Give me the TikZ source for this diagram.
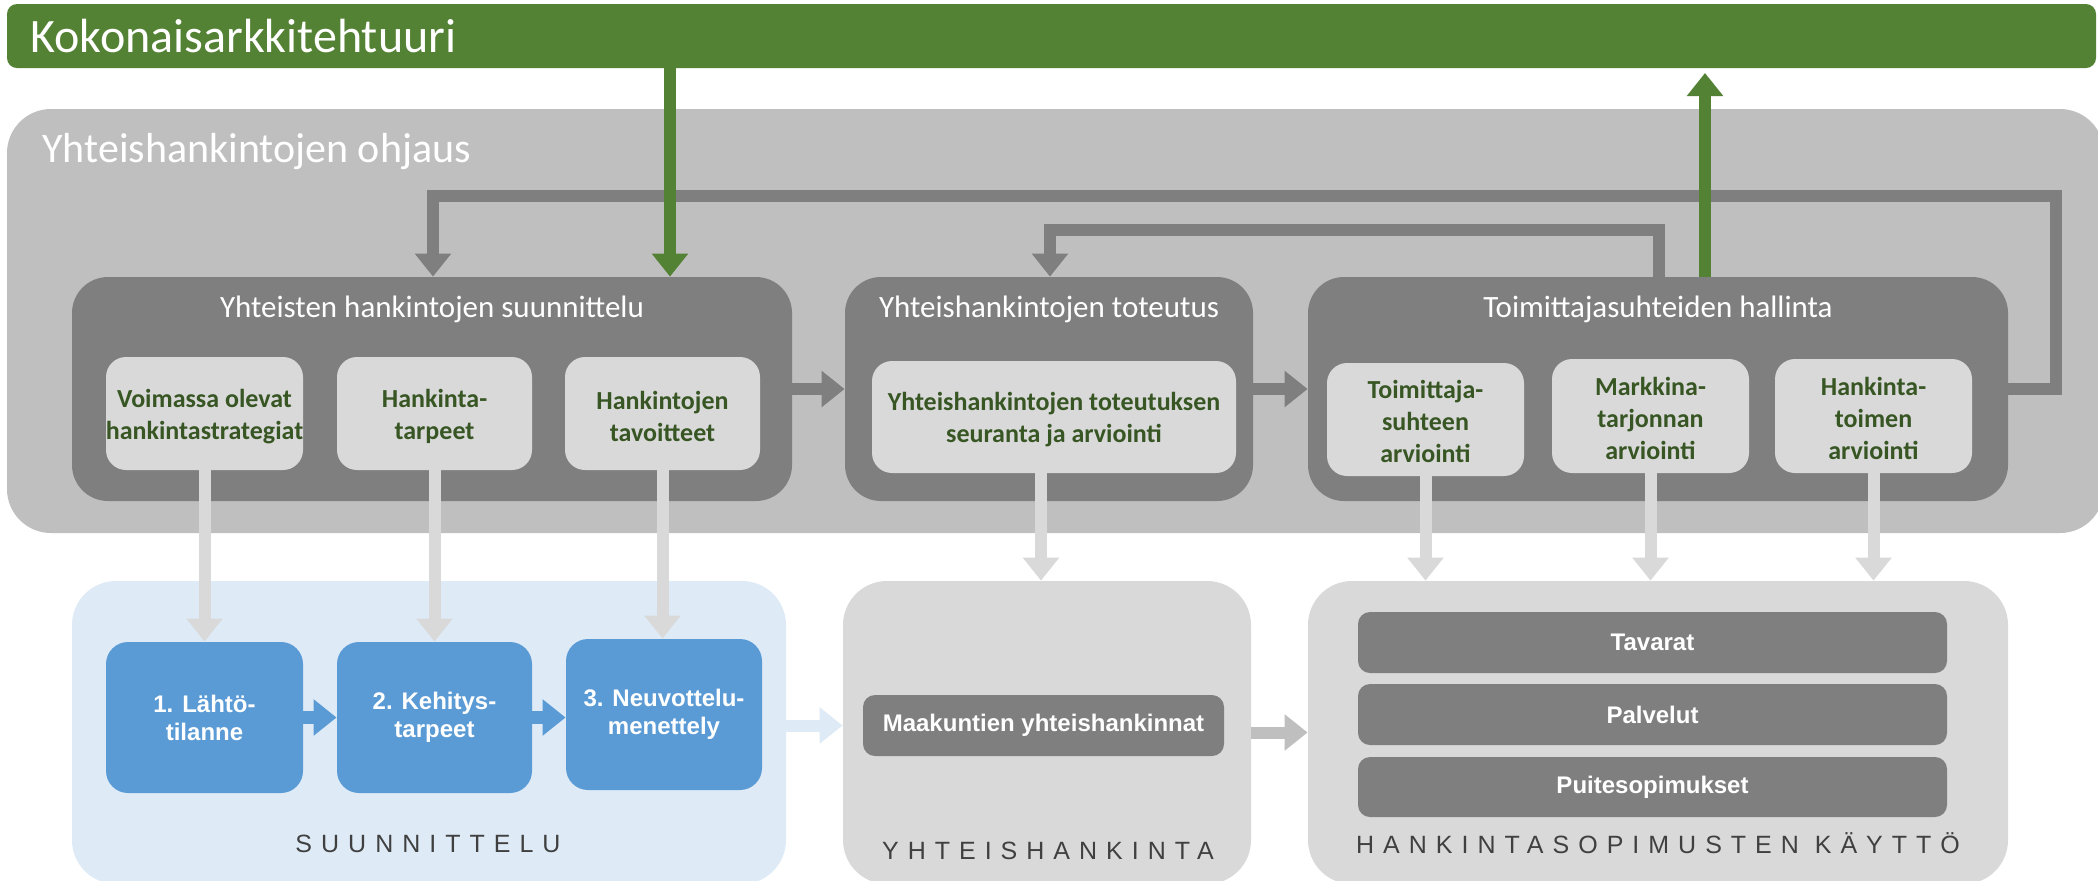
\documentclass[tikz,border=0pt]{standalone}
\usepackage{fontspec}
\setmainfont{Carlito}
\newfontfamily\arialf{Liberation Sans}
\newfontfamily\capf{Liberation Sans}[LetterSpace=36]
\usetikzlibrary{arrows.meta,fit,calc}
\definecolor{kgreen}{HTML}{548235}
\definecolor{ogray}{HTML}{BFBFBF}
\definecolor{dgray}{HTML}{7F7F7F}
\definecolor{lgray}{HTML}{D9D9D9}
\definecolor{tgreen}{HTML}{375623}
\definecolor{lblue}{HTML}{DEEBF7}
\definecolor{mblue}{HTML}{5B9BD5}
\definecolor{capgray}{HTML}{404040}
\tikzset{
 fbox/.style={fill=#1, draw=none, inner sep=0pt},
 outerbox/.style={fbox=ogray, rounded corners=22pt},
 darkbox/.style={fbox=dgray, rounded corners=18pt},
 lightbox/.style={fbox=lgray, rounded corners=10pt},
 lighttext/.style={inner sep=0pt, align=center, text=tgreen, font=\fontsize{13pt}{16pt}\selectfont\bfseries},
 zonebox/.style={fbox=#1, rounded corners=22pt},
 bluebox/.style={fbox=mblue, rounded corners=11pt},
 whitetext/.style={inner sep=0pt, align=center, text=white, font=\arialf\fontsize{12pt}{14pt}\selectfont\bfseries},
 graybar/.style={fbox=dgray, rounded corners=6pt},
 boxtitle/.style={text=white, font=\fontsize{15.5pt}{18pt}\selectfont, inner sep=0pt, anchor=base},
 zonecaption/.style={text=capgray, font=\capf\fontsize{12.5pt}{15pt}\selectfont, inner sep=0pt, anchor=base},
 fatarrow/.style={draw=#1, line width=6pt, -{Triangle[width=17.5pt,length=11.5pt]}},
}
\begin{document}
\begin{tikzpicture}[x=0.5pt,y=-0.5pt]
\useasboundingbox (0,0) rectangle (2098,880);
\clip (0,0) rectangle (2098,880);
\fill[white] (0,0) rectangle (2098,880);

% steering area
\node[outerbox, fit={(7,109) (2104,533)}] (O) {};
\node[anchor=base west, inner sep=0pt, text=white, font=\fontsize{21pt}{24pt}\selectfont] (Ot) at (42,162) {Yhteishankintojen ohjaus};

% green bar
\node[fbox=kgreen, rounded corners=5pt, fit={(7,4) (2096,68)}] (K) {};
\node[anchor=base west, inner sep=0pt, text=white, font=\fontsize{24pt}{28pt}\selectfont] (Kt) at (30,52) {Kokonaisarkkitehtuuri};

% dark boxes
\node[darkbox, fit={(72,277) (792,501)}] (dS) {};
\node[boxtitle] (dSt) at (432,317) {Yhteisten hankintojen suunnittelu};
\node[darkbox, fit={(845,277) (1253,501)}] (dT) {};
\node[boxtitle] (dTt) at (1049,317) {Yhteishankintojen toteutus};
\node[darkbox, fit={(1308,277) (2008,501)}] (dH) {};
\node[boxtitle] (dHt) at (1658,317) {Toimittajasuhteiden hallinta};

% light boxes
\node[lightbox, fit={(106,357) (303,470)}] (L1) {};
\node[lightbox, fit={(337,357) (532,470)}] (L2) {};
\node[lightbox, fit={(565,357) (760,470)}] (L3) {};
\node[lightbox, fit={(872,361) (1236,473)}] (L4) {};
\node[lightbox, fit={(1327,363) (1524,476)}] (L5) {};
\node[lightbox, fit={(1552,359) (1749,473)}] (L6) {};
\node[lightbox, fit={(1775,359) (1972,473)}] (L7) {};
\node[lighttext] (L1t) at ($(L1.center)+(0,3)$) {Voimassa olevat\\hankintastrategiat};
\node[lighttext] (L2t) at ($(L2.center)+(0,3)$) {Hankinta-\\tarpeet};
\node[lighttext] (L3t) at ($(L3.center)+(0,3)$) {Hankintojen\\tavoitteet};
\node[lighttext] (L4t) at ($(L4.center)+(0,3)$) {Yhteishankintojen toteutuksen\\seuranta ja arviointi};
\node[lighttext] (L5t) at ($(L5.center)+(0,2)$) {Toimittaja-\\suhteen\\arviointi};
\node[lighttext] (L6t) at ($(L6.center)+(0,2)$) {Markkina-\\tarjonnan\\arviointi};
\node[lighttext] (L7t) at ($(L7.center)+(0,2)$) {Hankinta-\\toimen\\arviointi};

% bottom zones
\node[zonebox=lblue, fit={(72,581) (786,884)}] (BS) {};
\node[zonebox=lgray, fit={(843,581) (1251,884)}] (BY) {};
\node[zonebox=lgray, fit={(1308,581) (2008,884)}] (BH) {};

\node[bluebox, fit={(106,642) (303,793)}] (B1) {};
\node[bluebox, fit={(337,642) (532,793)}] (B2) {};
\node[bluebox, fit={(566,639) (762,790)}] (B3) {};
\node[whitetext] (B1t) at (B1.center) {1. Lähtö-\\tilanne};
\node[whitetext] (B2t) at (B2.center) {2. Kehitys-\\tarpeet};
\node[whitetext] (B3t) at (B3.center) {3. Neuvottelu-\\menettely};

\node[graybar, fit={(863,695) (1224,756)}] (M) {};
\node[graybar, fit={(1358,612) (1947,673)}] (T1) {};
\node[graybar, fit={(1358,684) (1947,745)}] (T2) {};
\node[graybar, fit={(1358,757) (1947,817)}] (T3) {};
\node[whitetext] (Mt) at (M.center) {Maakuntien yhteishankinnat};
\node[whitetext] (T1t) at (T1.center) {Tavarat};
\node[whitetext] (T2t) at (T2.center) {Palvelut};
\node[whitetext] (T3t) at (T3.center) {Puitesopimukset};

\node[zonecaption] (cS) at (428,852) {SUUNNITTELU};
\node[zonecaption] (cY) at (1048,859) {YHTEISHANKINTA};
\node[zonecaption] (cH) at (1658,853) {HANKINTASOPIMUSTEN KÄYTTÖ};

% arrows between dark boxes
\draw[fatarrow=dgray] (dS.east) -- (dT.west);
\draw[fatarrow=dgray] (dT.east) -- (dH.west);

% feedback loops
\coordinate (o1) at (2056,196);
\coordinate (o2) at (433,196);
\draw[fatarrow=dgray] (dH.east) -| (o1) -- (o2) -- (o2 |- dS.north);
\coordinate (i1) at (1659,230);
\coordinate (i2) at (1050,230);
\draw[fatarrow=dgray] (i1 |- dH.north) -- (i1) -- (i2) -- (i2 |- dT.north);

% green arrows
\coordinate (g1) at (670,0);
\draw[fatarrow=kgreen] (g1 |- K.south) -- (g1 |- dS.north);
\coordinate (g2) at (1705,73);
\draw[fatarrow=kgreen] (g2 |- dH.north) -- (g2);

% light arrows down
\draw[fatarrow=lgray] (L1.south) -- (L1.south |- B1.north);
\draw[fatarrow=lgray] (L2.south) -- (L2.south |- B2.north);
\draw[fatarrow=lgray] (L3.south) -- (L3.south |- B3.north);
\coordinate (a4) at (1041,0);
\draw[fatarrow=lgray] (a4 |- L4.south) -- (a4 |- BY.north);
\draw[fatarrow=lgray] (L5.south) -- (L5.south |- BH.north);
\draw[fatarrow=lgray] (L6.south) -- (L6.south |- BH.north);
\draw[fatarrow=lgray] (L7.south) -- (L7.south |- BH.north);

% bottom arrows
\draw[fatarrow=mblue, line width=6.5pt] (B1.east) -- (B2.west);
\draw[fatarrow=mblue, line width=6.5pt] (B2.east) -- (B2.east -| B3.west);
\draw[fatarrow=lblue] (BS.east |- M.west) -- (BY.west |- M.west);
\draw[fatarrow=ogray] (BY.east) -- (BH.west);
\end{tikzpicture}
\end{document}
